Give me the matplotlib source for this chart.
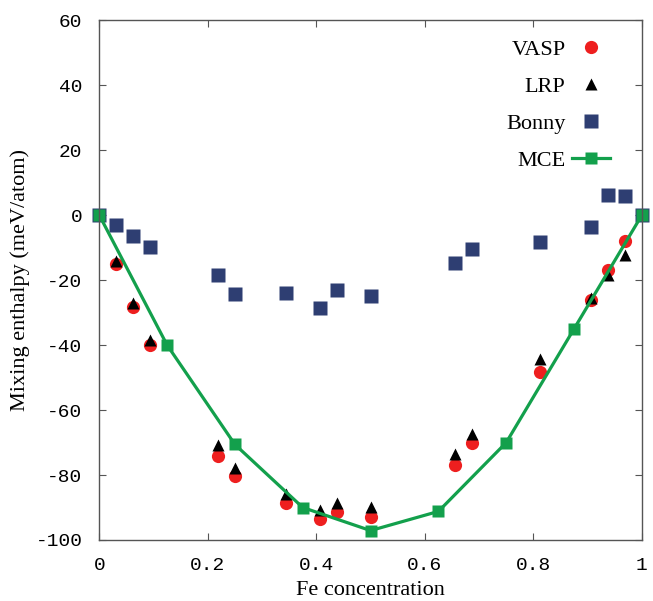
import matplotlib
matplotlib.use('Agg')
import matplotlib.pyplot as plt
import numpy as np

plt.rcParams['axes.unicode_minus'] = False

# Fe concentration of the supercell compositions (n/32)
x_calc = [1/32, 2/32, 3/32, 7/32, 8/32, 11/32, 13/32, 14/32, 16/32,
          21/32, 22/32, 26/32, 29/32, 30/32, 31/32]
vasp = [-15.0, -28.4, -40.0, -74.0, -80.2, -88.5, -93.6, -91.3, -93.0,
        -76.9, -70.2, -48.3, -26.0, -16.8, -8.0]
lrp = [-14.0, -27.1, -38.3, -70.9, -77.9, -85.8, -90.8, -88.7, -89.7,
       -73.6, -67.3, -44.2, -25.5, -18.3, -12.3]

x_bonny = [0, 1/32, 2/32, 3/32, 7/32, 8/32, 11/32, 13/32, 14/32, 16/32,
           21/32, 22/32, 26/32, 29/32, 30/32, 31/32, 1]
bonny = [0, -3.0, -6.5, -9.8, -18.4, -24.3, -24.0, -28.6, -23.1, -25.0,
         -14.6, -10.5, -8.2, -3.6, 6.1, 6.0, 0]

x_mce = [0, 0.125, 0.25, 0.375, 0.5, 0.625, 0.75, 0.875, 1]
mce = [0, -40.0, -70.6, -90.0, -97.1, -91.2, -70.0, -35.0, 0]

fig = plt.figure(figsize=(6.53, 6.01), dpi=100)
ax = fig.add_axes([0.152, 0.1015, 0.831, 0.865])

ax.plot(x_calc, vasp, 'o', color='#ee1f1f', ms=9.5, mec='none', label='VASP')
ax.plot(x_calc, lrp, '^', color='black', ms=8.5, mec='none', label='LRP')
ax.plot(x_bonny, bonny, 's', color='#2e3e72', ms=10, mec='none', label='Bonny',
        clip_on=False)
ax.plot(x_mce, mce, '-s', color='#13a04c', lw=2.3, ms=8, mec='none', label='MCE',
        clip_on=False)

ax.set_xlim(0, 1)
ax.set_ylim(-100, 60)
ax.set_xticks([0, 0.2, 0.4, 0.6, 0.8, 1])
ax.set_xticklabels(['0', '0.2', '0.4', '0.6', '0.8', '1'])
ax.set_yticks(np.arange(-100, 61, 20))

ax.tick_params(direction='in', length=5, width=0.8, color='#555555',
               top=True, right=True, labelsize=14, pad=12)
for lab in ax.get_xticklabels() + ax.get_yticklabels():
    lab.set_fontfamily('Liberation Mono')
for s in ax.spines.values():
    s.set_color('#555555')
    s.set_linewidth(1.0)

ax.set_xlabel('Fe concentration', fontfamily='Liberation Serif', fontsize=16, labelpad=5)
ax.set_ylabel('Mixing enthalpy (meV/atom)', fontfamily='Liberation Serif', fontsize=16, labelpad=4)

ax.legend(loc='upper right', bbox_to_anchor=(0.976, 1.0), frameon=False,
          markerfirst=False, numpoints=1, handlelength=1.7, handletextpad=0.3,
          labelspacing=0.75, borderaxespad=0.45,
          prop={'family': 'Liberation Serif', 'size': 16})

fig.savefig('out.png', dpi=100)
